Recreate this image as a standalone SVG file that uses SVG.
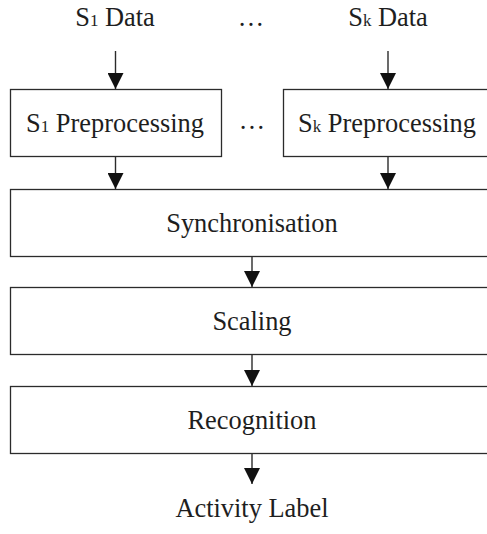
<svg xmlns="http://www.w3.org/2000/svg" width="487" height="534" viewBox="0 0 487 534">
  <style>
    .box { fill: #ffffff; stroke: #2b2b2b; stroke-width: 1.3; }
    .lbl { font-family: "Liberation Serif", "Times New Roman", serif; font-size: 26.4px; fill: #1e1e1e; text-anchor: middle; }
    .sub { font-size: 17px; }
    .edge { stroke: #2b2b2b; stroke-width: 1.4; fill: none; marker-end: url(#head); }
  </style>
  <defs>
    <marker id="head" markerUnits="userSpaceOnUse" viewBox="0 0 16 16" refX="16" refY="8" markerWidth="16" markerHeight="16" orient="auto">
      <path d="M0,0 L16,8 L0,16 Z" fill="#111111"/>
    </marker>
  </defs>

  <!-- inputs -->
  <g id="s1-data">
    <text class="lbl" x="115" y="26">S<tspan class="sub">1</tspan> Data</text>
  </g>
  <g id="top-dots">
    <text class="lbl" x="251" y="26">…</text>
  </g>
  <g id="sk-data">
    <text class="lbl" x="388" y="26">S<tspan class="sub">k</tspan> Data</text>
  </g>

  <!-- per-sensor preprocessing -->
  <g id="s1-pre">
    <rect class="box" x="10.5" y="89.5" width="211" height="67"/>
    <text class="lbl" x="115" y="132">S<tspan class="sub">1</tspan> Preprocessing</text>
  </g>
  <g id="mid-dots">
    <text class="lbl" x="252" y="129">…</text>
  </g>
  <g id="sk-pre">
    <rect class="box" x="283.5" y="89.5" width="211" height="67"/>
    <text class="lbl" x="387" y="132">S<tspan class="sub">k</tspan> Preprocessing</text>
  </g>

  <!-- pipeline stages -->
  <g id="sync">
    <rect class="box" x="10.5" y="189.5" width="484" height="67"/>
    <text class="lbl" x="252" y="232">Synchronisation</text>
  </g>
  <g id="scaling">
    <rect class="box" x="10.5" y="287.5" width="484" height="67"/>
    <text class="lbl" x="252" y="330">Scaling</text>
  </g>
  <g id="recognition">
    <rect class="box" x="10.5" y="386.5" width="484" height="67"/>
    <text class="lbl" x="252" y="429">Recognition</text>
  </g>
  <g id="activity-label">
    <text class="lbl" x="252" y="517">Activity Label</text>
  </g>

  <!-- connectors -->
  <g id="connectors">
    <line class="edge" x1="115.5" y1="51" x2="115.5" y2="89"/>
    <line class="edge" x1="388" y1="51" x2="388" y2="89"/>
    <line class="edge" x1="115.5" y1="157" x2="115.5" y2="189"/>
    <line class="edge" x1="388" y1="157" x2="388" y2="189"/>
    <line class="edge" x1="252" y1="257" x2="252" y2="287"/>
    <line class="edge" x1="252" y1="355" x2="252" y2="386"/>
    <line class="edge" x1="252" y1="454" x2="252" y2="484"/>
  </g>
</svg>
